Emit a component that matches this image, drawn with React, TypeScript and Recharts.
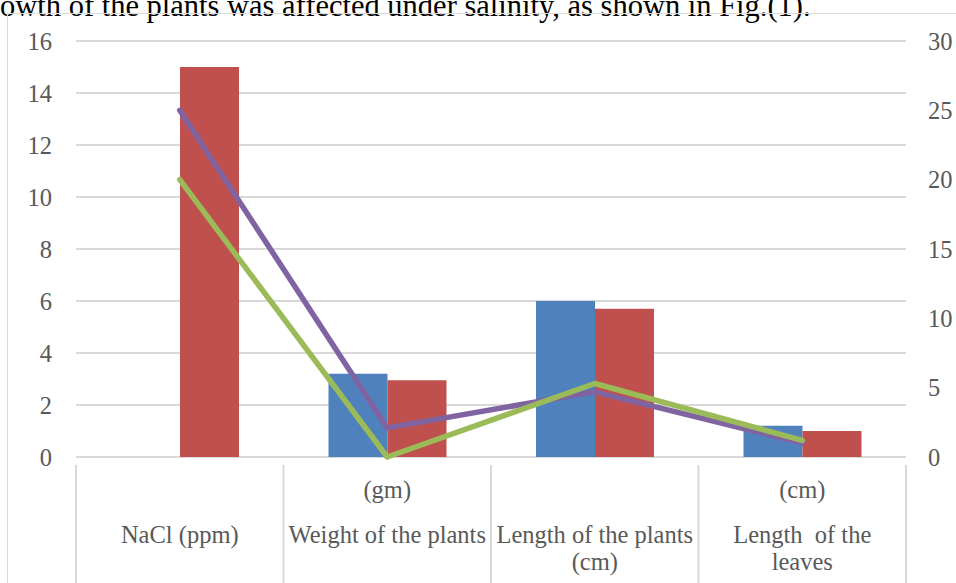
import { ComposedChart, Bar, Line, XAxis, YAxis, CartesianGrid } from 'recharts'

const categories = ['NaCl (ppm)', 'Weight of the plants (gm)', 'Length of the plants (cm)', 'Length of the leaves (cm)']
// label rows as they sit under the axis (upper note, main line, lower line)
const categoryLabels = [
  ['', 'NaCl (ppm)', ''],
  ['(gm)', 'Weight of the plants', ''],
  ['', 'Length of the plants', '(cm)'],
  ['(cm)', 'Length  of the', 'leaves'],
]
const blueBars = [0, 3.2, 6.0, 1.2]
const redBars = [15, 2.95, 5.7, 1.0]
const purpleLine = [25, 2.1, 4.7, 1.0]
const greenLine = [20, 0, 5.3, 1.2]
const leftTicks = [0, 2, 4, 6, 8, 10, 12, 14, 16]
const rightTicks = [0, 5, 10, 15, 20, 25, 30]

const data = categories.map((name, i) => ({
  name,
  blue: blueBars[i],
  red: redBars[i],
  purple: purpleLine[i],
  green: greenLine[i],
}))

const FONT = '"Liberation Serif", serif'
const GRID = '#d9d9d9'
const TEXT = '#595959'
const CAT_W = 830 / categories.length
const ROW_Y = [27, 72, 99]

function CatTick(props: any) {
  const { x, y, index } = props
  const rows = categoryLabels[index] || []
  const last = index === categories.length - 1
  return (
    <g>
      <line x1={x - CAT_W / 2} y1={y} x2={x - CAT_W / 2} y2={y + 130} stroke={GRID} strokeWidth={2} />
      {last && <line x1={x + CAT_W / 2} y1={y} x2={x + CAT_W / 2} y2={y + 130} stroke={GRID} strokeWidth={2} />}
      {rows.map((r, k) =>
        r ? (
          <text key={k} x={x} y={y + ROW_Y[k]} textAnchor="middle" dominantBaseline="middle"
            fontFamily={FONT} fontSize={24.5} fill={TEXT} style={{ whiteSpace: 'pre' }}>
            {r}
          </text>
        ) : null
      )}
    </g>
  )
}

export default function App() {
  return (
    <div style={{ position: 'absolute', left: 0, top: 0, width: 956, height: 583, overflow: 'hidden', background: '#fff' }}>
      <div style={{ position: 'absolute', left: 0, top: -11, fontFamily: FONT, fontSize: 30.5, color: '#000', whiteSpace: 'nowrap' }}>
        owth of the plants was affected under salinity, as shown in Fig.(1).
      </div>
      <div style={{ position: 'absolute', left: 7, top: 13, width: 1000, height: 700, border: `1.5px solid ${GRID}` }} />
      <div style={{ position: 'absolute', left: 0, top: 0 }}>
        <ComposedChart width={956} height={583} data={data} barGap={0} barSize={59}
          margin={{ top: 41, right: 0, left: 0, bottom: 0 }}>
          <CartesianGrid vertical={false} stroke={GRID} strokeWidth={2} yAxisId="left" />
          <XAxis dataKey="name" height={126} axisLine={false} tickLine={false} interval={0}
            tick={<CatTick />} />
          <YAxis yAxisId="left" domain={[0, 16]} ticks={leftTicks} width={76} axisLine={false}
            tickLine={false} tickSize={0} tickMargin={24}
            tick={{ fontFamily: FONT, fontSize: 24.5, fill: TEXT }} />
          <YAxis yAxisId="right" orientation="right" domain={[0, 30]} ticks={rightTicks} width={50}
            axisLine={false} tickLine={false} tickSize={0} tickMargin={22}
            tick={{ fontFamily: FONT, fontSize: 24.5, fill: TEXT, textAnchor: 'start' }} />
          <Bar yAxisId="left" dataKey="blue" fill="#4F81BD" isAnimationActive={false} />
          <Bar yAxisId="left" dataKey="red" fill="#C0504D" isAnimationActive={false} />
          <Line yAxisId="right" dataKey="purple" stroke="#8064A2" strokeWidth={5.5} dot={false}
            strokeLinecap="round" strokeLinejoin="round" isAnimationActive={false} />
          <Line yAxisId="right" dataKey="green" stroke="#9BBB59" strokeWidth={5.5} dot={false}
            strokeLinecap="round" strokeLinejoin="round" isAnimationActive={false} />
        </ComposedChart>
      </div>
    </div>
  )
}
